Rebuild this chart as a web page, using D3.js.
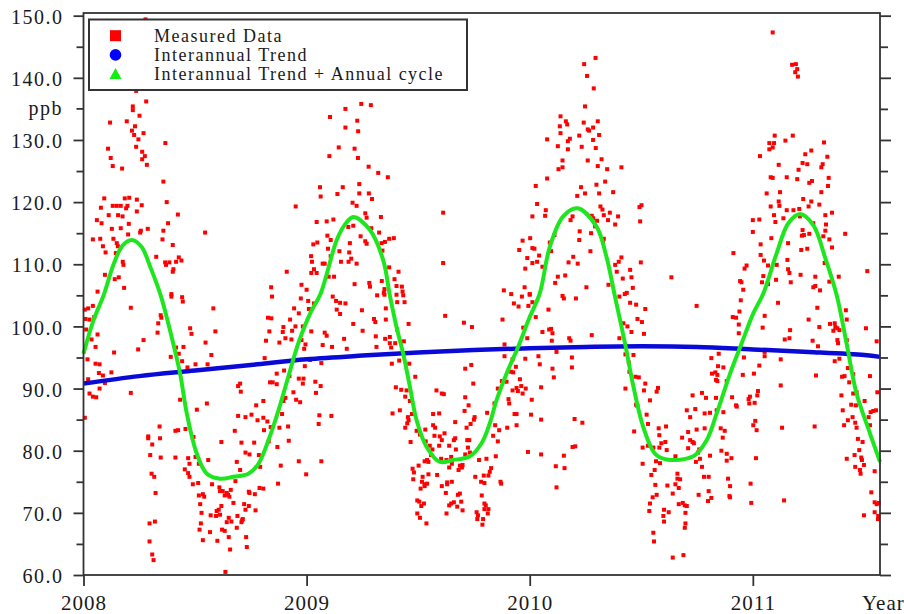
<!DOCTYPE html>
<html>
<head>
<meta charset="utf-8">
<script src="https://cdn.jsdelivr.net/npm/d3@7"></script>
<style>
  body { margin: 0; background: #fff; }
  svg text { font-family: "Liberation Serif", "Times New Roman", serif; fill: #1a1a1a; }
</style>
</head>
<body>
<div id="chart"></div>
<script>
// Measured data, [fraction of year, ppb], one list per year
let meas2008 = [
  [0.278,149.4],[0.236,137.9],[0.281,136.2],[0.221,135.4],[0.221,134.8],[0.251,133.9],[0.119,132.8],[0.194,133.0],[0.231,132.2],[0.217,131.5],
  [0.227,130.8],[0.269,131.1],[0.246,130.1],[0.236,128.9],[0.367,129.5],[0.110,128.6],[0.263,128.1],[0.275,127.4],[0.122,127.1],[0.263,126.9],
  [0.284,126.0],[0.131,125.8],[0.173,125.4],[0.358,123.3],[0.093,120.6],[0.185,120.6],[0.205,120.7],[0.239,120.4],[0.373,120.0],[0.131,119.4],
  [0.149,119.4],[0.167,119.4],[0.197,119.4],[0.261,119.5],[0.078,119.1],[0.191,119.0],[0.239,118.5],[0.113,117.9],[0.155,117.9],[0.175,117.7],
  [0.423,118.0],[0.060,117.1],[0.081,116.6],[0.203,116.5],[0.288,115.7],[0.379,116.6],[0.127,115.7],[0.167,115.8],[0.257,115.4],[0.254,115.1],
  [0.358,115.4],[0.545,115.1],[0.200,114.8],[0.042,114.0],[0.075,114.1],[0.134,114.1],[0.354,114.0],[0.149,113.4],[0.154,112.9],[0.087,112.9],
  [0.400,113.1],[0.099,111.9],[0.145,111.8],[0.326,111.2],[0.427,111.1],[0.366,110.3],[0.385,110.3],[0.415,110.4],[0.439,110.6],[0.176,110.4],
  [0.179,109.9],[0.370,109.9],[0.403,109.2],[0.400,108.8],[0.096,108.3],[0.158,107.9],[0.140,107.6],[0.182,106.2],[0.063,105.6],[0.394,105.2],
  [0.951,119.3],[0.911,108.8],[0.841,106.3],[0.977,106.7],
  [0.042,103.3],[0.021,102.9],[0.006,102.7],[0.212,103.0],[0.394,104.8],[0.442,104.7],[0.445,104.0],[0.582,102.9],[0.346,101.8],[0.349,101.4],
  [0.009,101.2],[0.048,101.5],[0.027,101.1],[0.335,100.5],[0.478,99.7],[0.012,99.5],[0.591,99.2],[0.332,99.0],[0.484,98.8],[0.063,98.7],
  [0.269,97.8],[0.036,97.9],[0.547,97.4],[0.054,96.7],[0.448,96.7],[0.137,95.8],[0.245,96.3],[0.573,95.4],[0.415,96.6],[0.427,95.6],
  [0.391,95.1],[0.018,94.7],[0.442,94.4],[0.054,94.0],[0.072,93.9],[0.502,93.9],[0.556,93.9],[0.466,93.4],[0.125,92.6],[0.069,92.5],
  [0.087,92.1],[0.021,91.5],[0.096,90.9],[0.072,90.0],[0.027,89.2],[0.212,89.3],[0.042,88.7],[0.057,88.6],[0.433,88.2],[0.553,87.6],
  [0.508,86.6],[0.006,85.3],[0.341,83.9],[0.412,83.2],[0.424,83.3],[0.457,83.5],[0.290,82.3],[0.290,82.0],[0.343,82.0],[0.493,82.2],
  [0.618,81.4],[0.308,81.0],[0.299,79.3],[0.346,78.9],[0.412,78.9],[0.469,78.8],[0.502,79.0],[0.517,77.9],[0.559,78.5],[0.475,77.9],
  [0.454,77.0],[0.469,76.4],[0.475,75.8],[0.305,76.3],[0.317,75.8],[0.490,74.6],[0.514,74.8],[0.576,74.6],[0.609,74.1],[0.612,73.5],
  [0.624,73.5],[0.642,73.2],[0.660,73.7],[0.681,75.1],[0.323,73.2],[0.517,72.8],[0.535,73.0],[0.541,72.6],[0.633,72.8],[0.648,72.9],
  [0.654,72.6],[0.741,73.4],[0.744,73.2],[0.768,73.0],[0.789,74.0],[0.806,73.9],[0.523,71.4],[0.618,71.1],[0.672,71.6],[0.720,71.4],
  [0.741,71.1],[0.771,70.4],[0.606,70.5],[0.597,70.3],[0.529,70.0],[0.570,69.6],[0.594,69.5],[0.612,69.7],[0.651,69.2],[0.690,69.5],
  [0.714,69.0],[0.726,70.5],[0.663,68.6],[0.642,68.5],[0.526,68.3],[0.708,68.5],[0.711,68.8],[0.296,68.3],[0.320,68.6],[0.687,67.6],
  [0.520,67.3],[0.567,66.9],[0.621,67.3],[0.633,67.1],[0.651,66.1],[0.535,65.6],[0.600,65.5],[0.296,65.4],[0.729,66.1],[0.657,64.1],
  [0.732,64.5],[0.308,63.3],[0.314,62.4],[0.636,60.5],
  [0.845,104.8],[0.974,104.5],[0.944,102.9],[0.965,102.1],[0.827,101.4],[0.842,101.3],[0.926,101.1],[0.896,99.9],[0.950,100.0],[0.983,100.0],
  [0.833,99.2],[0.893,99.1],[0.935,99.3],[0.905,98.1],[0.932,97.9],[0.818,97.7],[0.878,97.4],[0.977,97.8],[0.995,97.1],[0.989,96.4],
  [0.812,94.9],[0.992,93.6],[0.866,92.4],[0.899,92.9],[0.923,92.0],[0.836,91.0],[0.848,91.0],[0.965,91.6],[0.986,91.6],[0.983,90.8],
  [0.866,90.7],[0.702,90.8],[0.693,90.4],[0.705,89.5],[0.941,89.4],[0.905,88.5],[0.896,88.0],[0.953,88.2],[0.971,87.8],[0.806,88.0],
  [0.774,87.3],[0.753,85.8],[0.693,85.6],[0.726,85.4],[0.780,84.9],[0.806,85.3],[0.824,84.7],[0.890,85.9],[0.839,83.8],[0.878,83.7],
  [0.917,83.9],[0.678,83.2],[0.809,83.3],[0.708,81.3],[0.765,81.3],[0.830,81.5],[0.920,81.6],[0.869,80.6],[0.726,79.7],[0.744,79.4],
  [0.786,79.3],[0.965,78.3],[0.687,78.2],[0.702,76.9],[0.792,77.4],[0.884,77.6],[0.998,76.2],[0.872,74.7]
];
let meas2009 = [
  [0.105,133.7],[0.174,135.0],[0.174,132.0],[0.144,128.8],[0.102,127.4],[0.060,122.4],[0.063,120.9],[0.162,122.4],[0.138,121.3],[0.120,117.2],
  [0.045,116.8],[0.090,116.9],[0.187,116.0],[0.093,114.6],[0.108,113.9],[0.048,113.5],[0.030,113.2],[0.096,112.5],[0.147,112.1],[0.191,111.9],
  [0.020,111.3],[0.108,111.3],[0.024,110.4],[0.072,110.1],[0.081,110.1],[0.154,110.4],[0.188,110.4],[0.033,109.2],[0.021,108.6],[0.045,108.6],
  [0.099,108.0],[0.123,108.0],[0.000,105.9],
  [0.245,135.8],[0.288,135.6],[0.227,133.1],[0.231,131.4],[0.215,128.6],[0.230,127.1],[0.278,125.7],[0.321,124.7],[0.364,124.0],[0.236,122.9],
  [0.236,121.4],[0.279,121.4],[0.206,119.9],[0.224,119.4],[0.293,120.5],[0.612,118.3],[0.263,118.2],[0.269,117.5],[0.333,117.6],[0.290,115.8],
  [0.209,116.2],[0.325,115.1],[0.242,114.5],[0.336,113.4],[0.263,113.7],[0.351,113.6],[0.370,114.1],[0.391,114.2],[0.269,113.3],[0.194,113.4],
  [0.200,110.9],[0.224,110.1],[0.340,112.2],[0.370,109.5],[0.412,108.8],[0.612,110.2],[0.394,107.6],[0.337,107.3],[0.281,107.0],[0.215,106.8],
  [0.403,106.5],[0.427,106.4],[0.349,106.0],[0.430,105.6],[0.346,105.4],[0.284,106.4],
  [0.007,104.1],[0.117,104.8],[0.132,104.1],[0.150,103.8],[0.174,103.7],[0.010,102.8],[0.033,103.7],[0.135,102.7],[0.150,102.0],[0.021,99.2],
  [0.081,99.0],[0.090,98.5],[0.072,97.0],[0.168,98.0],[0.114,96.7],[0.180,96.4],[0.015,94.6],[0.066,94.1],[0.039,91.1],[0.063,90.4],
  [0.042,89.3],[0.057,85.7],[0.111,85.6],[0.054,84.3],[0.066,78.3],
  [0.316,105.0],[0.349,105.1],[0.403,105.1],[0.433,105.0],[0.355,102.9],[0.406,103.9],[0.439,103.9],[0.248,102.6],[0.302,101.2],[0.308,100.7],
  [0.355,101.1],[0.209,100.4],[0.251,99.3],[0.457,100.4],[0.406,99.5],[0.310,98.4],[0.373,98.3],[0.352,98.0],[0.436,97.6],[0.373,97.3],
  [0.397,97.3],[0.313,96.7],[0.379,96.6],[0.460,94.0],[0.415,94.5],[0.382,94.0],[0.487,91.9],[0.400,90.2],[0.424,89.8],[0.448,89.7],
  [0.442,88.7],[0.463,88.0],[0.385,86.0],[0.418,86.5],[0.454,85.4],[0.472,85.9],[0.457,84.9],[0.442,83.7],[0.451,84.4],[0.493,83.2],
  [0.508,82.6],[0.466,81.4],[0.532,83.4],[0.534,81.5],[0.552,80.8],[0.564,80.2],[0.558,79.3],[0.540,78.5],[0.546,78.2],[0.567,84.1],
  [0.576,83.7],[0.573,82.4],[0.594,80.8],[0.597,82.3],[0.606,81.7],[0.618,82.8],[0.615,89.1],[0.606,89.2],[0.582,89.7],[0.567,85.9],
  [0.594,86.0],[0.639,80.8],[0.660,81.7],[0.666,82.0],[0.669,80.2],[0.648,79.0],[0.603,78.7],[0.627,78.5],[0.666,84.6],[0.711,88.6],
  [0.708,86.4],[0.726,87.3],[0.717,83.7],[0.750,85.0],[0.735,84.3],[0.720,81.7],[0.729,81.7],[0.723,80.5],[0.732,79.7],[0.711,79.4],
  [0.687,77.6],[0.696,77.3],[0.699,77.7],[0.681,76.9],[0.475,77.1],[0.481,76.5],[0.502,77.6],[0.529,78.3],[0.478,75.4],[0.520,75.8],
  [0.546,76.2],[0.585,76.1],[0.639,77.3],[0.651,77.9],[0.517,75.0],[0.529,74.6],[0.540,74.7],[0.511,73.9],[0.529,74.3],[0.606,74.3],
  [0.630,74.9],[0.651,75.0],[0.630,74.6],[0.624,73.2],[0.687,73.1],[0.678,72.9],[0.496,72.0],[0.505,71.8],[0.526,71.5],[0.514,71.1],
  [0.639,71.2],[0.648,71.5],[0.660,71.7],[0.675,71.0],[0.693,71.8],[0.699,70.4],[0.627,69.9],[0.496,69.9],[0.508,69.2],[0.537,68.3],
  [0.756,75.8],[0.773,78.5],[0.806,78.7],[0.827,77.2],[0.821,76.6],[0.794,76.0],[0.815,76.0],[0.782,75.0],[0.797,74.8],[0.869,75.0],
  [0.872,74.7],[0.785,72.8],[0.797,71.5],[0.803,71.2],[0.797,70.6],[0.815,70.6],[0.812,69.9],[0.762,70.1],[0.768,69.6],[0.765,69.0],
  [0.791,69.0],[0.788,68.1],[0.848,79.1],[0.857,81.5],[0.836,82.4],[0.845,84.1],[0.863,83.3],[0.899,83.7],[0.941,84.1],[0.809,86.1],
  [0.842,87.6],[0.908,87.6],[0.905,88.3],[0.857,90.0],[0.875,91.2],[0.896,91.1],[0.923,89.7],[0.941,90.1],[0.947,89.6],[0.956,91.5],
  [0.962,90.4],[0.982,90.0],[0.968,89.2],[0.932,85.9],[0.941,85.9],[0.917,92.7],[0.926,92.6],[0.938,93.5],[0.923,94.7],[0.887,95.2],
  [0.980,94.8],[0.887,97.1],[0.878,101.1],[0.950,103.2],[0.929,103.7],[0.965,104.8],[0.971,99.8],[0.989,98.1],[0.753,85.4],[0.741,99.9],
  [0.705,100.6],[0.621,101.7],[0.747,90.8],[0.711,93.2],[0.738,93.8],[0.992,79.8],[0.994,103.3],
  [0.968,113.8],[0.953,112.3],[0.989,111.0],[0.980,109.3],[0.977,106.3],[0.884,105.8],[0.917,105.2]
];
let meas2010 = [
  [0.295,143.2],[0.244,142.2],[0.257,140.3],[0.287,138.3],[0.248,135.4],[0.138,133.8],[0.135,132.2],[0.162,133.0],[0.168,132.5],[0.242,132.8],
  [0.305,133.0],[0.260,131.7],[0.266,131.5],[0.284,132.0],[0.138,131.1],[0.222,130.7],[0.311,130.8],[0.180,130.2],[0.171,129.8],[0.078,130.1],
  [0.284,130.0],[0.126,129.0],[0.233,128.9],[0.171,128.5],[0.296,128.7],[0.147,126.7],[0.260,126.7],[0.322,126.9],[0.147,125.6],[0.129,125.3],
  [0.305,125.8],[0.347,125.3],[0.078,123.8],[0.027,122.6],[0.338,123.3],[0.230,122.4],[0.299,122.8],[0.213,121.0],[0.248,121.4],[0.311,121.4],
  [0.374,121.6],[0.033,119.7],[0.072,118.7],[0.069,117.8],[0.012,117.7],[0.192,117.7],[0.317,119.3],[0.326,118.8],[0.359,118.3],[0.332,117.9],
  [0.351,117.1],[0.383,116.4],[0.278,117.8],[0.284,117.4],[0.183,117.1],[0.302,117.0],[0.293,116.1],[0.224,115.3],[0.275,115.0],[0.111,114.7],
  [0.332,114.1],[0.222,113.9],[0.002,114.2],[0.090,113.5],[0.329,113.5],[0.012,112.6],[0.021,112.5],[0.096,112.1],[0.272,112.1],[0.195,111.2],
  [0.042,111.4],[0.033,110.4],[0.012,110.2],[0.174,110.3],[0.215,110.1],[0.057,109.6],[0.383,109.9],[0.126,108.0],[0.159,108.2],[0.114,107.0],
  [0.254,106.3],[0.353,106.7],[0.000,105.2],
  [0.000,105.1],[0.012,103.9],[0.027,101.5],[0.084,102.7],[0.057,99.1],[0.087,99.5],[0.096,99.6],[0.102,98.9],[0.099,97.7],[0.120,95.9],
  [0.102,93.2],[0.108,91.8],[0.189,93.4],[0.177,98.1],[0.183,97.7],[0.189,95.0],[0.278,98.6],[0.147,104.9],[0.153,104.5],[0.207,104.5],
  [0.045,93.9],[0.039,95.2],[0.051,90.2],[0.009,88.2],[0.006,85.8],[0.051,85.0],[0.051,79.4],[0.153,79.2],[0.117,77.5],[0.156,77.2],
  [0.120,74.1],[0.192,80.6],[0.204,80.7],[0.201,85.1],[0.236,84.5],
  [0.411,125.6],[0.492,119.2],[0.501,119.5],[0.396,117.7],[0.495,116.9],[0.411,111.1],[0.399,110.4],[0.450,109.1],[0.498,110.3],[0.390,108.8],
  [0.417,107.7],[0.456,107.9],[0.462,106.2],[0.435,105.4],[0.635,107.9],[0.913,111.8],[0.972,109.8],[0.963,109.3],[0.943,107.3],[0.949,107.1],
  [0.957,105.9],
  [0.402,104.8],[0.426,105.2],[0.450,103.8],[0.477,103.5],[0.518,102.8],[0.483,101.2],[0.503,100.7],[0.420,100.5],[0.438,100.0],[0.456,99.1],
  [0.512,98.8],[0.402,98.1],[0.429,95.5],[0.465,95.4],[0.444,94.2],[0.447,92.7],[0.474,91.9],[0.489,91.8],[0.518,90.8],[0.429,90.0],
  [0.512,89.7],[0.575,90.1],[0.569,89.5],[0.539,88.1],[0.477,87.4],[0.483,87.2],[0.524,85.8],[0.530,84.3],[0.468,83.1],[0.578,83.6],
  [0.611,83.9],[0.581,82.5],[0.590,81.2],[0.608,81.4],[0.506,80.5],[0.530,80.8],[0.554,80.5],[0.581,80.5],[0.506,77.9],[0.545,76.1],
  [0.560,76.9],[0.566,78.3],[0.584,78.0],[0.614,80.1],[0.563,74.5],[0.551,72.5],[0.539,71.5],[0.536,70.3],[0.569,72.9],[0.602,70.5],
  [0.599,69.5],[0.602,68.6],[0.623,70.1],[0.554,66.8],[0.557,65.4],[0.617,74.4],[0.641,73.1],[0.653,74.6],[0.662,75.5],[0.668,74.0],
  [0.674,75.4],[0.662,76.3],[0.668,71.4],[0.686,71.6],[0.695,71.2],[0.704,71.1],[0.698,70.0],[0.698,68.3],[0.695,67.6],[0.641,62.8],
  [0.689,63.2],[0.653,79.1],[0.683,82.1],[0.710,83.0],[0.719,81.7],[0.730,81.4],[0.710,80.4],[0.736,81.2],[0.754,79.7],[0.745,78.2],
  [0.763,78.7],[0.760,80.2],[0.772,77.4],[0.781,75.8],[0.802,75.8],[0.757,72.9],[0.802,73.5],[0.799,71.9],[0.814,72.4],[0.808,79.2],
  [0.784,83.6],[0.748,83.4],[0.719,85.4],[0.742,86.7],[0.704,86.5],[0.730,88.9],[0.772,89.3],[0.790,88.5],[0.784,86.0],[0.808,86.1],
  [0.835,88.5],[0.838,86.5],[0.868,86.2],[0.856,83.6],[0.865,82.1],[0.874,83.2],[0.859,80.0],[0.883,79.5],[0.904,78.8],[0.883,78.4],
  [0.889,75.5],[0.898,74.3],[0.895,72.7],[0.898,72.5],[0.832,92.6],[0.817,92.4],[0.841,92.2],[0.835,91.4],[0.841,91.2],[0.814,94.9],
  [0.847,95.6],[0.844,93.6],[0.868,93.4],[0.883,91.2],[0.907,88.6],[0.925,87.3],[0.928,87.1],[0.955,92.2],[0.910,101.5],[0.925,101.4],
  [0.940,102.4],[0.946,104.2],[0.937,100.3],[0.937,98.9],[0.960,95.0],[0.748,103.3],[0.987,88.7],[0.981,88.3],[0.984,87.6],[0.990,74.7],
  [0.993,71.6]
];
let meas2011 = [
  [0.089,147.3],[0.176,142.1],[0.193,142.2],[0.199,141.4],[0.190,140.9],[0.202,140.2],[0.098,130.7],[0.179,130.7],[0.074,129.5],[0.095,129.5],
  [0.146,129.9],[0.319,129.6],[0.089,128.8],[0.074,128.5],[0.262,128.3],[0.032,127.4],[0.235,127.7],[0.334,127.3],[0.223,126.3],[0.244,126.1],
  [0.116,126.0],[0.313,126.1],[0.307,125.6],[0.205,125.2],[0.080,124.0],[0.089,123.9],[0.152,124.0],[0.199,123.7],[0.340,123.9],[0.253,123.1],
  [0.265,123.4],[0.337,122.6],[0.122,121.6],[0.062,121.4],[0.307,121.6],[0.226,120.5],[0.116,120.1],[0.262,120.1],[0.080,119.3],[0.119,119.4],
  [0.250,119.3],[0.298,119.6],[0.152,118.7],[0.182,118.7],[0.208,118.9],[0.355,118.3],[0.095,117.9],[0.137,117.4],[0.211,117.7],[0.325,117.9],
  [0.000,117.1],[0.029,117.2],[0.101,116.8],[0.271,116.6],[0.328,116.4],[0.325,115.4],[0.000,115.2],[0.223,115.5],[0.229,114.7],[0.253,114.9],
  [0.220,114.6],[0.414,114.9],[0.083,114.2],[0.316,114.5],[0.343,114.0],[0.158,113.4],[0.035,113.2],[0.355,112.7],[0.217,112.3],[0.244,112.5],
  [0.035,111.5],[0.050,110.6],[0.155,110.7],[0.322,110.2],[0.068,109.8],[0.107,109.9],[0.158,109.2],[0.513,108.9],[0.164,108.6],[0.214,108.3],
  [0.280,108.0],[0.385,108.0],[0.047,108.1],[0.104,107.5],[0.170,107.1],[0.343,107.2],[0.041,107.1],[0.280,106.5],[0.271,106.3],[0.301,105.8],
  [0.068,106.8],
  [0.005,92.4],[0.008,87.7],[0.011,84.8],[0.002,84.1],[0.017,83.3],[0.014,78.8],[0.053,101.7],[0.044,99.8],[0.029,93.7],[0.023,89.6],
  [0.020,88.9],[0.053,95.9],[0.053,95.2],[0.125,94.7],[0.125,90.5],[0.113,103.8],[0.143,97.9],[0.164,98.1],[0.167,99.4],[0.131,83.7],
  [0.140,72.0],[0.250,101.1],[0.289,103.0],[0.298,99.9],[0.268,97.7],[0.292,96.8],[0.283,92.1],[0.277,83.9],[0.346,100.4],[0.367,100.5],
  [0.370,99.9],[0.379,99.7],[0.361,99.3],[0.388,99.4],[0.417,102.6],[0.421,101.1],[0.379,97.8],[0.382,97.3],[0.421,97.8],[0.507,99.7],
  [0.555,97.6],[0.367,94.4],[0.388,94.8],[0.400,91.9],[0.411,92.0],[0.432,91.0],[0.426,93.3],[0.450,92.3],[0.525,92.0],[0.397,88.9],
  [0.465,89.4],[0.558,89.4],[0.450,89.2],[0.403,86.5],[0.441,87.4],[0.462,87.3],[0.501,88.0],[0.528,86.2],[0.540,86.4],[0.552,86.5],
  [0.519,85.4],[0.447,85.4],[0.426,84.9],[0.459,84.5],[0.465,83.7],[0.409,84.1],[0.525,84.1],[0.471,81.9],[0.492,81.4],[0.477,80.1],
  [0.456,79.3],[0.421,78.7],[0.486,78.9],[0.489,78.5],[0.498,77.7],[0.459,77.4],[0.480,76.9],[0.483,76.3],[0.546,76.7],[0.531,73.3],
  [0.546,71.7],[0.555,71.4],[0.565,71.6],[0.546,70.1],[0.562,69.5],[0.561,69.0],[0.498,69.6]
];

// Interannual trend, [years since 2008, ppb]
let trend = [
  [0,90.8],[0.25,92.0],[0.5,92.9],[0.75,93.8],[1.0,94.7],[1.25,95.3],[1.5,95.8],[1.75,96.2],
  [2.0,96.5],[2.25,96.7],[2.5,96.8],[2.75,96.7],[3.0,96.3],[3.25,95.9],[3.5,95.4],[3.57,95.1]
];
// Trend + annual cycle, [years since 2008, ppb]
let cycle = [
  [0,95.6],[0.045,101.0],[0.090,105.0],[0.135,110.0],[0.175,113.0],[0.217,113.9],[0.26,112.8],[0.30,109.5],
  [0.346,105.0],[0.391,98.9],[0.433,92.4],[0.463,86.0],[0.508,79.5],[0.553,76.3],[0.612,75.5],[0.672,75.8],
  [0.739,76.3],[0.784,77.9],[0.829,81.7],[0.874,86.5],[0.918,91.9],[0.963,97.3],[1.016,102.1],[1.063,105.3],
  [1.135,113.9],[1.17,116.3],[1.209,117.6],[1.284,115.5],[1.343,110.7],[1.373,105.0],[1.403,99.9],[1.433,95.6],
  [1.463,90.3],[1.493,84.9],[1.538,80.6],[1.597,78.2],[1.657,78.5],[1.732,79.1],[1.784,81.2],[1.821,84.4],
  [1.851,88.1],[1.896,92.4],[1.948,96.7],[2.000,101.5],[2.045,105.3],[2.090,112.8],[2.150,117.7],[2.214,119.0],
  [2.299,116.1],[2.344,111.2],[2.381,105.0],[2.427,97.3],[2.465,90.3],[2.509,83.8],[2.562,79.5],[2.614,78.6],
  [2.733,79.1],[2.793,81.7],[2.838,86.0],[2.898,92.4],[2.950,97.3],[3.002,102.1],[3.047,105.3],[3.107,111.8],
  [3.159,116.6],[3.211,118.1],[3.271,116.3],[3.323,111.2],[3.376,105.0],[3.420,97.3],[3.465,89.2],[3.525,82.8],
  [3.570,78.2]
];

let yearTicks = [2008, 2009, 2010, 2011];
let yMajor = [60, 70, 80, 90, 100, 110, 120, 130, 140, 150];
let yMinor = [65, 75, 85, 95, 105, 115, 125, 145];
let legendLabels = ["Measured Data", "Interannual Trend", "Interannual Trend + Annual cycle"];

let startYear = 2008;
let measured = [];
[[2008, meas2008], [2009, meas2009], [2010, meas2010], [2011, meas2011]].forEach(function(s) {
  s[1].forEach(function(d) { measured.push([s[0] + d[0], d[1]]); });
});

// Sizes
let width = 904;
let height = 614;
let plotLeft = 83.5, plotRight = 880, plotTop = 13, plotBottom = 575;
let frameColor = "#333";

let svg = d3.select("#chart").append("svg")
  .attr("width", width)
  .attr("height", height);
svg.append("rect").attr("width", width).attr("height", height).attr("fill", "#fff");

let xScale = d3.scaleLinear().domain([2008, 2011.57]).range([plotLeft, plotRight]);
let yScale = d3.scaleLinear().domain([60, 150.43]).range([plotBottom, plotTop]);

// Measured points
svg.append("g").selectAll("rect").data(measured).enter()
  .append("rect")
  .attr("x", function(d) { return xScale(d[0]) - 2; })
  .attr("y", function(d) { return yScale(d[1]) - 2; })
  .attr("width", 4)
  .attr("height", 4)
  .attr("fill", "#ff0000");

let line = d3.line()
  .x(function(d) { return xScale(startYear + d[0]); })
  .y(function(d) { return yScale(d[1]); })
  .curve(d3.curveCatmullRom);

svg.append("path").datum(trend)
  .attr("d", line)
  .attr("fill", "none")
  .attr("stroke", "#0a0ad8")
  .attr("stroke-width", 4.5);

svg.append("path").datum(cycle)
  .attr("d", line)
  .attr("fill", "none")
  .attr("stroke", "#1ee61e")
  .attr("stroke-width", 4);

// Axes
let fmt = d3.format(".1f");
let yLeft = svg.append("g").attr("transform", "translate(" + plotLeft + ",0)")
  .call(d3.axisLeft(yScale).tickValues(yMajor).tickSize(10).tickPadding(10).tickFormat(fmt));
yLeft.selectAll("text")
  .attr("font-size", 20)
  .attr("letter-spacing", 1.5)
  .attr("dy", "0.38em");
svg.append("g").attr("transform", "translate(" + plotLeft + ",0)")
  .call(d3.axisLeft(yScale).tickValues(yMinor).tickSize(7).tickFormat(""));
svg.append("g").attr("transform", "translate(" + plotRight + ",0)")
  .call(d3.axisRight(yScale).tickValues(yMajor).tickSize(11).tickFormat(""));
svg.append("g").attr("transform", "translate(" + plotRight + ",0)")
  .call(d3.axisRight(yScale).tickValues(yMinor.concat([135])).tickSize(8).tickFormat(""));

let xAxisG = svg.append("g").attr("transform", "translate(0," + plotBottom + ")")
  .call(d3.axisBottom(xScale).tickValues(yearTicks).tickSize(11).tickPadding(9).tickFormat(d3.format("d")));
xAxisG.selectAll("text")
  .attr("font-size", 21)
  .attr("letter-spacing", 1);

svg.selectAll(".domain").remove();
svg.selectAll(".tick line").attr("stroke", frameColor).attr("stroke-width", 1.8);
svg.selectAll(".tick text").attr("fill", "#1a1a1a").attr("font-family", "Liberation Serif, Times New Roman, serif");

// Minor tick at 135 on the left carries the unit label
svg.append("line")
  .attr("x1", plotLeft - 7).attr("x2", plotLeft)
  .attr("y1", yScale(135)).attr("y2", yScale(135))
  .attr("stroke", frameColor).attr("stroke-width", 1.8);
svg.append("text")
  .attr("x", plotLeft - 20.5)
  .attr("y", yScale(135))
  .attr("dy", "0.3em")
  .attr("text-anchor", "end")
  .attr("font-size", 20)
  .attr("letter-spacing", 1.5)
  .text("ppb");

svg.append("text")
  .attr("x", 862)
  .attr("y", 610)
  .attr("font-size", 21)
  .attr("letter-spacing", 1)
  .text("Year");

// Frame
svg.append("rect")
  .attr("x", plotLeft).attr("y", plotTop)
  .attr("width", plotRight - plotLeft).attr("height", plotBottom - plotTop)
  .attr("fill", "none")
  .attr("stroke", frameColor)
  .attr("stroke-width", 1.8);

// Legend
let legend = svg.append("g");
legend.append("rect")
  .attr("x", 89).attr("y", 19.5)
  .attr("width", 378).attr("height", 70.5)
  .attr("fill", "#fff")
  .attr("stroke", frameColor)
  .attr("stroke-width", 2);

let symX = 115.5;
let rowY = function(i) { return 35.7 + i * 19.2; };
legend.append("rect")
  .attr("x", symX - 5.5).attr("y", rowY(0) - 5.5)
  .attr("width", 11).attr("height", 11)
  .attr("fill", "#ff0000");
legend.append("circle")
  .attr("cx", symX).attr("cy", rowY(1))
  .attr("r", 5.8)
  .attr("fill", "#0000ff");
legend.append("path")
  .attr("d", "M" + (symX - 6) + "," + (rowY(2) + 5) + "L" + symX + "," + (rowY(2) - 6) + "L" + (symX + 6) + "," + (rowY(2) + 5) + "Z")
  .attr("fill", "#11ee11");

legend.selectAll("text.leg").data(legendLabels).enter()
  .append("text")
  .attr("class", "leg")
  .attr("x", 154)
  .attr("y", function(d, i) { return rowY(i) + 6; })
  .attr("font-size", 18)
  .attr("letter-spacing", 1.5)
  .text(function(d) { return d; });
</script>
</body>
</html>
